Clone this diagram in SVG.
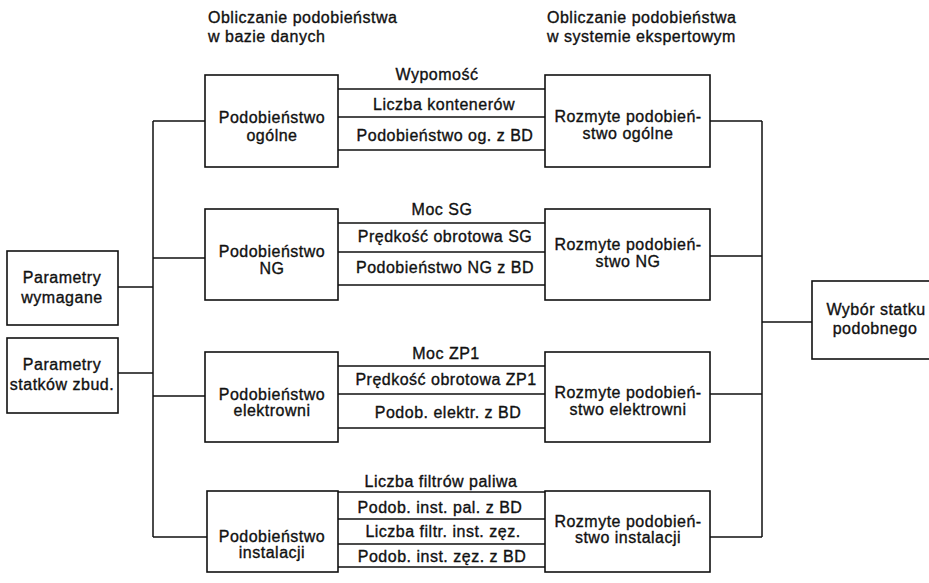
<svg xmlns="http://www.w3.org/2000/svg" width="929" height="583" viewBox="0 0 929 583">
<style>
text{font-family:"Liberation Sans",Arial,sans-serif;font-size:16px;letter-spacing:0.5px;fill:#111;stroke:#111;stroke-width:0.35px}
.c{text-anchor:middle}
.box{fill:#fff;stroke:#111;stroke-width:1.6}
.ln{fill:none;stroke:#111;stroke-width:1.5}
</style>
<rect width="929" height="583" fill="#fff"/>
<g id="headers">
<text x="208" y="23">Obliczanie podobieństwa</text>
<text x="208" y="42">w bazie danych</text>
<text x="547" y="23">Obliczanie podobieństwa</text>
<text x="547" y="42">w systemie ekspertowym</text>
</g>
<g id="connectors" class="ln">
<path d="M153 121V537M153 121H205M153 258H205M153 396H205M153 537H207M118 287H153M118 373H153"/>
<path d="M338 89H545M338 117H545M338 150H545"/>
<path d="M338 223H545M338 252H545M338 285H545"/>
<path d="M338 366H545M338 394H545M338 428H545"/>
<path d="M338 492H545M338 519H545M338 544H545M338 567H545"/>
<path d="M762 121V537M710 121H762M710 256H762M710 394H762M710 537H762M762 322H812"/>
</g>
<g id="edge-labels">
<text class="c" x="437" y="80">Wypomość</text>
<text class="c" x="444" y="110">Liczba kontenerów</text>
<text class="c" x="445" y="141">Podobieństwo og. z BD</text>
<text class="c" x="442" y="215">Moc SG</text>
<text class="c" x="445" y="242">Prędkość obrotowa SG</text>
<text class="c" x="445" y="273">Podobieństwo NG z BD</text>
<text class="c" x="446" y="359">Moc ZP1</text>
<text class="c" x="446" y="385">Prędkość obrotowa ZP1</text>
<text class="c" x="448" y="418">Podob. elektr.  z BD</text>
<text class="c" x="441" y="487">Liczba filtrów paliwa</text>
<text class="c" x="440" y="513">Podob. inst. pal. z BD</text>
<text class="c" x="443" y="537">Liczba filtr. inst. zęz.</text>
<text class="c" x="442" y="562">Podob. inst. zęz. z BD</text>
</g>
<g id="param-wymagane">
<rect class="box" x="7" y="251" width="111" height="74"/>
<text class="c" x="62" y="283">Parametry</text>
<text class="c" x="62" y="303">wymagane</text>
</g>
<g id="param-zbud">
<rect class="box" x="7" y="338" width="111" height="75"/>
<text class="c" x="62" y="370">Parametry</text>
<text class="c" x="62" y="390">statków zbud.</text>
</g>
<g id="db-ogolne">
<rect class="box" x="205" y="75" width="133" height="92"/>
<text class="c" x="272" y="123">Podobieństwo</text>
<text class="c" x="272" y="141">ogólne</text>
</g>
<g id="db-ng">
<rect class="box" x="205" y="209" width="133" height="91"/>
<text class="c" x="272" y="257">Podobieństwo</text>
<text class="c" x="272" y="274">NG</text>
</g>
<g id="db-elektrowni">
<rect class="box" x="205" y="352" width="133" height="90"/>
<text class="c" x="272" y="400">Podobieństwo</text>
<text class="c" x="272" y="416">elektrowni</text>
</g>
<g id="db-instalacji">
<rect class="box" x="207" y="491" width="131" height="81"/>
<text class="c" x="272" y="542">Podobieństwo</text>
<text class="c" x="272" y="558">instalacji</text>
</g>
<g id="fz-ogolne">
<rect class="box" x="545" y="75" width="165" height="92"/>
<text class="c" x="628" y="122">Rozmyte podobień-</text>
<text class="c" x="628" y="139">stwo ogólne</text>
</g>
<g id="fz-ng">
<rect class="box" x="545" y="209" width="165" height="91"/>
<text class="c" x="628" y="250">Rozmyte podobień-</text>
<text class="c" x="628" y="267">stwo NG</text>
</g>
<g id="fz-elektrowni">
<rect class="box" x="545" y="352" width="165" height="90"/>
<text class="c" x="628" y="398">Rozmyte podobień-</text>
<text class="c" x="628" y="415">stwo elektrowni</text>
</g>
<g id="fz-instalacji">
<rect class="box" x="545" y="491" width="165" height="81"/>
<text class="c" x="628" y="527">Rozmyte podobień-</text>
<text class="c" x="628" y="543">stwo instalacji</text>
</g>
<g id="wybor">
<rect class="box" x="812" y="281" width="130" height="78"/>
<text class="c" x="876" y="315">Wybór statku</text>
<text class="c" x="875" y="334">podobnego</text>
</g>
</svg>
